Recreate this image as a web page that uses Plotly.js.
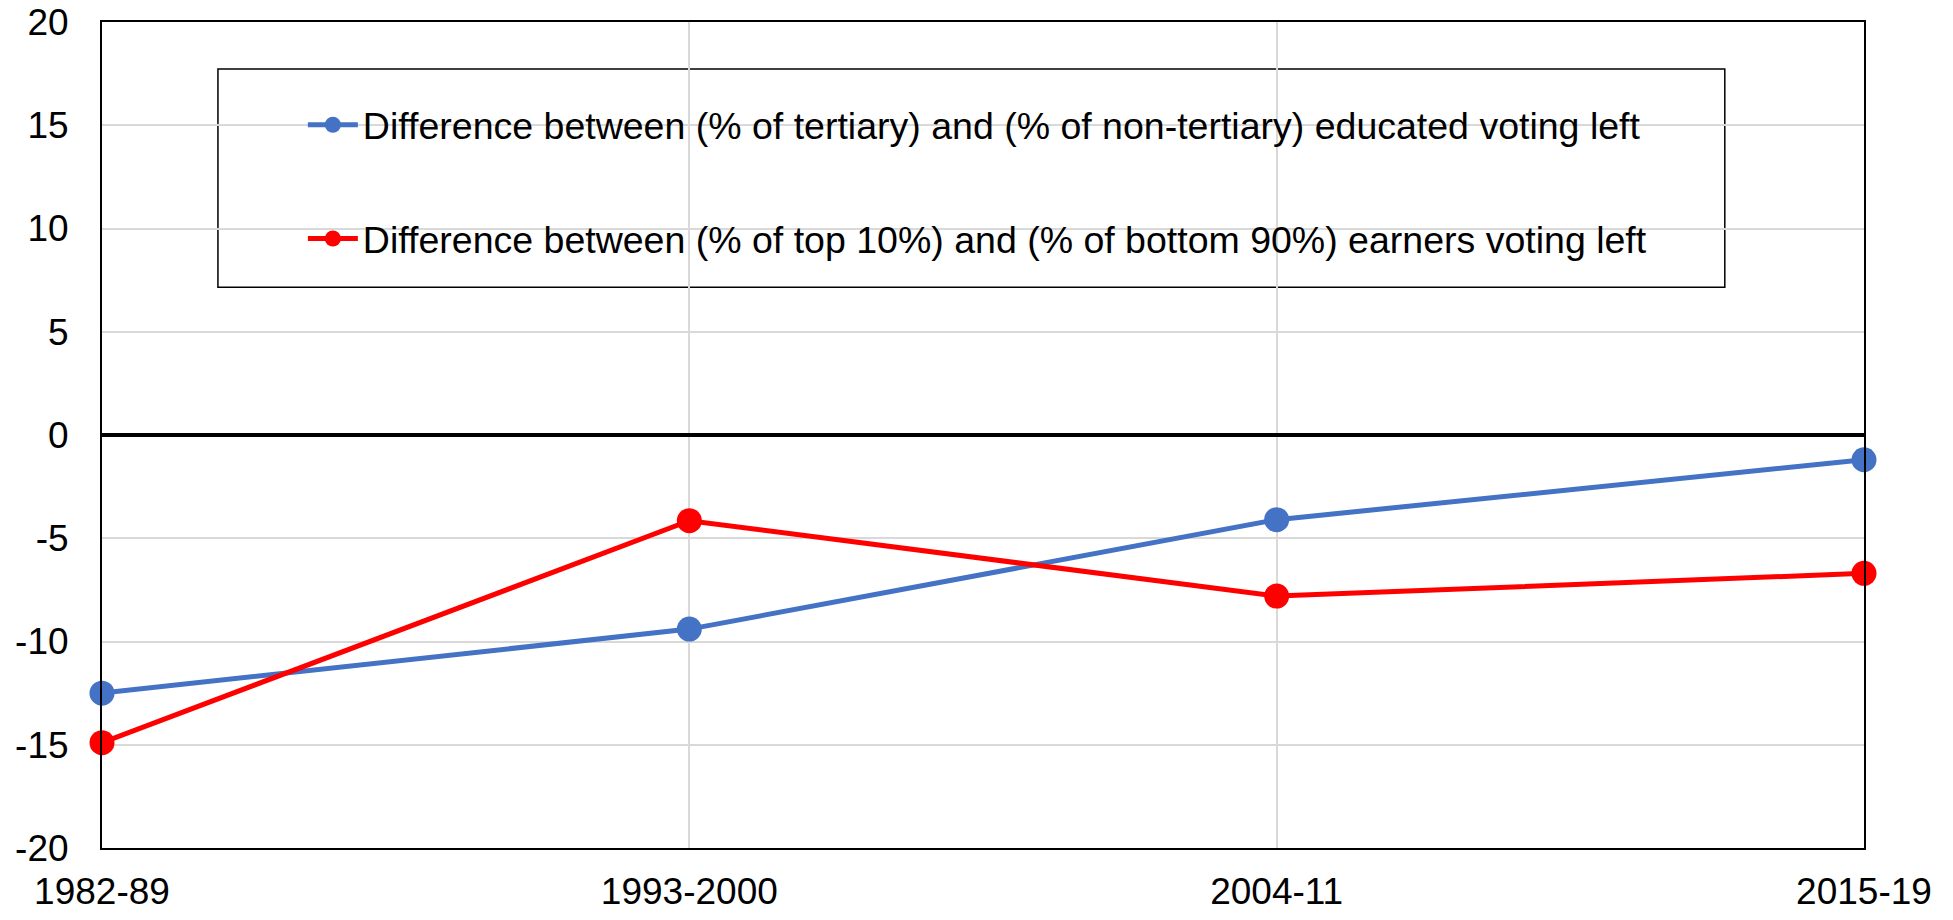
<!DOCTYPE html>
<html>
<head>
<meta charset="utf-8">
<script src="https://cdn.plot.ly/plotly-3.0.1.min.js"></script>
<style>
  html, body { margin: 0; padding: 0; background: #fff; }
  #chart { width: 1953px; height: 920px; }
</style>
</head>
<body>
<div id="chart"></div>
<script>
// periods and gaps (percentage points)
const PERIODS = ['1982-89', '1993-2000', '2004-11', '2015-19'];
const EDU_GAP = [-12.5, -9.4, -4.1, -1.2];
const INCOME_GAP = [-14.9, -4.15, -7.8, -6.7];
const Y_TICKS = [-20, -15, -10, -5, 0, 5, 10, 15, 20];
const Y_TICK_TEXT = Y_TICKS.map(v => String(v)); // plain hyphen, like the original

const EDU_NAME = 'Difference between (% of tertiary) and (% of non-tertiary) educated voting left';
const INCOME_NAME = 'Difference between (% of top 10%) and (% of bottom 90%) earners voting left';

const FONT = { family: 'Liberation Sans, Arial, sans-serif', color: '#000', size: 37 };

const traces = [
  {
    x: PERIODS, y: EDU_GAP, name: EDU_NAME, legendgroup: 'edu',
    type: 'scatter', mode: 'lines+markers', cliponaxis: false,
    line: { color: '#4472C4', width: 5 },
    marker: { color: '#4472C4', size: 25 },
  },
  {
    x: PERIODS, y: INCOME_GAP, name: INCOME_NAME, legendgroup: 'inc',
    type: 'scatter', mode: 'lines+markers', cliponaxis: false,
    line: { color: '#FF0000', width: 5 },
    marker: { color: '#FF0000', size: 25 },
  },
];

const layout = {
  width: 1953, height: 920,
  paper_bgcolor: '#fff', plot_bgcolor: '#fff',
  font: FONT,
  margin: { l: 102, r: 89, t: 22, b: 72 },
  showlegend: true,
  xaxis: {
    type: 'category', range: [0, PERIODS.length - 1],
    showgrid: true, gridcolor: '#d9d9d9', gridwidth: 2,
    showline: true, linecolor: '#000', linewidth: 2, mirror: true,
    ticks: '', ticklabelstandoff: 10,
    tickfont: { size: 37 },
  },
  yaxis: {
    range: [-20, 20], tickvals: Y_TICKS, ticktext: Y_TICK_TEXT,
    showgrid: true, gridcolor: '#d9d9d9', gridwidth: 2,
    zeroline: true, zerolinecolor: '#000', zerolinewidth: 4,
    showline: true, linecolor: '#000', linewidth: 2, mirror: true,
    ticks: '', ticklabelstandoff: 24,
    tickfont: { size: 37 },
  },
  legend: {
    x: 0.114, y: 0.913, xanchor: 'left', yanchor: 'top',
    bgcolor: 'rgba(0,0,0,0)', borderwidth: 0,
    font: { size: 37.5 }, tracegroupgap: 62, itemwidth: 50,
    traceorder: 'grouped',
  },
  shapes: [{
    type: 'rect', xref: 'paper', yref: 'paper', layer: 'between',
    x0: 0.0658, x1: 0.921, y0: 0.679, y1: 0.943,
    line: { color: '#000', width: 1.5 }, fillcolor: '#fff',
  }],
};

Plotly.newPlot('chart', traces, layout, { displayModeBar: false, staticPlot: true });
</script>
</body>
</html>
